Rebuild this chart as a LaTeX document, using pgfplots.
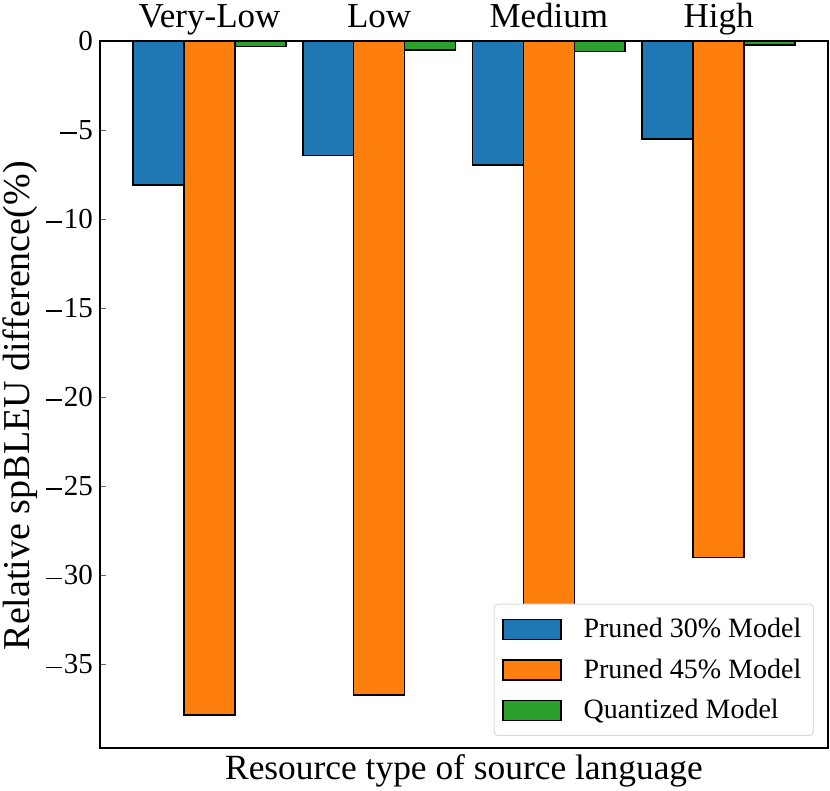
\documentclass[border=0pt]{standalone}
\usepackage{fontspec}
\setmainfont{Liberation Serif}
\usepackage{pgfplots}
\pgfplotsset{compat=1.18}
\definecolor{tabblue}{HTML}{1F77B4}
\definecolor{taborange}{HTML}{FF7F0E}
\definecolor{tabgreen}{HTML}{2CA02C}
\newcommand\mn{\hspace{0.06em}\rule[0.2em]{0.56em}{0.055em}\hspace{0.06em}}
\begin{document}
\begin{tikzpicture}
\begin{axis}[
  scale only axis, width=364pt, height=353.5pt,
  xmin=-0.645, xmax=3.645, ymin=-39.69, ymax=0,
  ybar, bar width=0.3, bar shift=0pt,
  xtick={0,1,2,3}, xticklabels={Very-Low,Low,Medium,High},
  xticklabel pos=upper, xtick pos=upper, ytick pos=left,
  x tick label style={font=\fontsize{17.5}{20}\selectfont, anchor=base, yshift=7pt},
  ytick={-35,-30,-25,-20,-15,-10,-5,0},
  yticklabels={\mn35,\mn30,\mn25,\mn20,\mn15,\mn10,\mn5,0},
  y tick label style={font=\fontsize{14.5}{17}\selectfont},
  /pgf/number format/assume math mode=true,
  tick align=inside, major tick length=3pt,
  tick style={black!60, line width=0.5pt},
  axis line style={line width=1pt},
  xlabel={Resource type of source language},
  xlabel style={font=\fontsize{17.7}{20}\selectfont, at={(axis description cs:0.5,0)}, anchor=base, yshift=-15.5pt},
  ylabel={Relative spBLEU difference(\%)},
  ylabel style={font=\fontsize{19}{22}\selectfont, at={(axis description cs:-0.0975,0.484)}, anchor=base, rotate=0},
  every axis plot/.append style={draw=black, line width=0.75pt},
  legend cell align=left,
  legend image code/.code={\draw[#1, sharp corners] (0pt,-5pt) rectangle (29pt,5pt);},
  legend style={at={(axis description cs:0.9805,0.017)}, anchor=south east,
    font=\fontsize{14}{16}\selectfont, draw=black!15, rounded corners=2pt,
    fill=white, line width=0.5pt, inner xsep=4pt, inner ysep=5pt, row sep=5pt,
    /tikz/every odd column/.append style={column sep=9pt}},
]
\addplot[fill=tabblue] coordinates {(-0.3,-8.08) (0.7,-6.43) (1.7,-6.97) (2.7,-5.50)};
\addplot[fill=taborange] coordinates {(0,-37.84) (1,-36.70) (2,-34.0) (3,-29.0)};
\addplot[fill=tabgreen] coordinates {(0.3,-0.30) (1.3,-0.50) (2.3,-0.60) (3.3,-0.22)};
\legend{Pruned 30\% Model, Pruned 45\% Model, Quantized Model}
\coordinate (ll) at (rel axis cs:0,0);
\coordinate (ur) at (rel axis cs:1,1);
\end{axis}
\pgfresetboundingbox
\path[use as bounding box] ([shift={(-50pt,-21pt)}]ll) rectangle ([shift={(1pt,20.5pt)}]ur);
\end{tikzpicture}
\end{document}
